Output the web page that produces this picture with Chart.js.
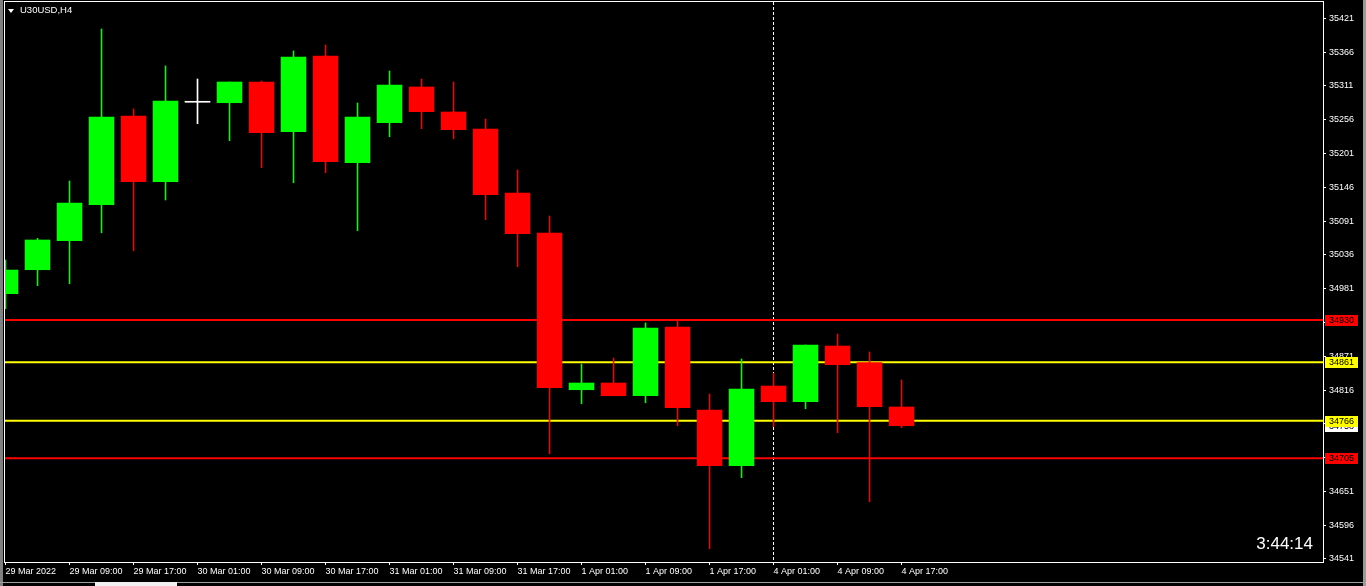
<!DOCTYPE html>
<html><head><meta charset="utf-8">
<script src="https://cdn.jsdelivr.net/npm/chart.js@4"></script>
<style>
html,body{margin:0;padding:0;background:#000;overflow:hidden;}
#wrap{position:relative;width:1366px;height:586px;background:#000;}
canvas{display:block;}
#title{position:absolute;left:20px;top:5px;font-family:"Liberation Sans",Arial,sans-serif;font-size:9.5px;line-height:10px;color:#fff;white-space:nowrap;}
#tri{position:absolute;left:8px;top:9px;width:0;height:0;border-left:3.5px solid transparent;border-right:3.5px solid transparent;border-top:4px solid #fff;}
#clock{position:absolute;right:53px;top:535px;font-family:"Liberation Sans",Arial,sans-serif;font-size:17px;line-height:17px;color:#fff;white-space:nowrap;}
</style></head><body>
<div id="wrap"><canvas id="c" width="1366" height="586"></canvas>
<div id="tri"></div><div id="title">U30USD,H4</div><div id="clock">3:44:14</div></div>
<script>
// ---- data (H4 candles, 29 Mar 01:00 .. 4 Apr 17:00) ----
const opens  = [34972.8,35011.8,35059.0,35117.6,35262.0,35155.0,35284.3,35283.6,35317.3,35236.4,35359.6,35186.0,35251.1,35309.2,35268.5,35240.8,35136.7,35071.6,34816.5,34827.4,34806.7,34918.6,34783.5,34692.8,34822.5,34797.0,34887.6,34860.5,34788.4];
const highs  = [35027.6,35062.9,35156.2,35403.6,35273.4,35343.4,35322.2,35317.3,35319.0,35367.8,35377.5,35283.1,35335.2,35322.2,35317.3,35257.1,35174.1,35099.2,34858.3,34868.1,34925.1,34931.1,34809.5,34866.5,34843.2,34889.3,34907.2,34877.9,34832.3];
const lows   = [34948.3,34985.8,34989.0,35072.0,35042.7,35125.3,35249.5,35221.8,35177.8,35153.4,35169.7,35075.3,35228.3,35241.3,35225.0,35093.2,35016.7,34712.3,34793.7,34806.7,34795.3,34757.9,34557.7,34673.3,34756.3,34785.6,34746.5,34634.2,34754.7];
const closes = [35011.3,35060.2,35120.4,35260.4,35155.0,35286.4,35284.3,35317.3,35234.8,35358.0,35187.6,35260.4,35312.4,35269.0,35239.7,35133.9,35070.4,34819.8,34827.4,34806.7,34916.9,34787.2,34692.8,34817.6,34797.0,34889.3,34857.2,34788.8,34757.9];
const timeTickIdx = [0,2,4,6,8,10,12,14,16,18,20,22,24,26,28];
const timeLabels = ["29 Mar 2022","29 Mar 09:00","29 Mar 17:00","30 Mar 01:00","30 Mar 09:00","30 Mar 17:00","31 Mar 01:00","31 Mar 09:00","31 Mar 17:00","1 Apr 01:00","1 Apr 09:00","1 Apr 17:00","4 Apr 01:00","4 Apr 09:00","4 Apr 17:00"];
const priceTicks = [35421,35366,35311,35256,35201,35146,35091,35036,34981,34926,34871,34816,34761,34706,34651,34596,34541];
const levels = [34930,34861,34766,34705];
const separatorIdx = 24;

// ---- view / style ----
const levelColors = ['#ff0000','#ffff00','#ffff00','#ff0000'];
const X_MIN = -0.046875, X_MAX = X_MIN + 1319/32;
const Y_MAX = 35447.5, Y_MIN = 34536.1;
const FONT = '"Liberation Sans", Arial, sans-serif';
const UP = '#00ff00', DOWN = '#ff0000', DOJI = '#ffffff';
const candleColors = closes.map((c,i)=> c>opens[i]?UP:(c<opens[i]?DOWN:DOJI));

const datasets = [];
levels.forEach((v,k)=>{
  datasets.push({type:'line', data:[{x:X_MIN,y:v},{x:X_MAX,y:v}], borderColor:levelColors[k], borderWidth:2,
    pointRadius:0, clip:0, order:5});
});
datasets.push({type:'line', data:[{x:separatorIdx,y:Y_MAX},{x:separatorIdx,y:Y_MIN}], borderColor:'#ffffff',
  borderWidth:1, borderDash:[3,2], pointRadius:0, clip:0, order:6});
datasets.push({type:'bar', data:highs.map((h,i)=>({x:i,y:[lows[i],h]})), backgroundColor:candleColors,
  barThickness:1, grouped:false, clip:0, order:3, borderWidth:0});
datasets.push({type:'bar', data:opens.map((o,i)=>({x:i,y:[o,closes[i]]})), backgroundColor:candleColors,
  barThickness:25, minBarLength:1, grouped:false, clip:0, order:2, borderWidth:0});

const chromePlugin = {
  id:'chrome',
  beforeDraw(chart){
    const ctx=chart.ctx; ctx.save();
    ctx.fillStyle='#000'; ctx.fillRect(0,0,1366,586);
    ctx.fillStyle='#808080'; ctx.fillRect(0,0,3,586);
    ctx.fillStyle='#9a9a9a'; ctx.fillRect(1363,0,3,586);
    ctx.fillStyle='#a0a0a0'; ctx.fillRect(0,582,1366,1);
    ctx.fillStyle='#f0f0f0'; ctx.fillRect(95,582,82,4);
    ctx.restore();
  },
  afterDraw(chart){
    const ctx=chart.ctx, a=chart.chartArea, ys=chart.scales.y;
    ctx.save();
    ctx.strokeStyle='#ffffff'; ctx.lineWidth=1;
    ctx.beginPath();
    ctx.moveTo(4.5,1); ctx.lineTo(4.5,563);
    ctx.moveTo(4,1.5); ctx.lineTo(1324,1.5);
    ctx.moveTo(a.right+0.5,1); ctx.lineTo(a.right+0.5,563);
    ctx.moveTo(4,a.bottom+0.5); ctx.lineTo(1324,a.bottom+0.5);
    ctx.stroke();
    ctx.font='9px '+FONT; ctx.textBaseline='middle'; ctx.textAlign='left';
    const tag=(v,bg,txt)=>{
      const y=Math.round(ys.getPixelForValue(v));
      ctx.fillStyle=bg; ctx.fillRect(1325,y-5,33,11);
      ctx.fillStyle='#000'; ctx.fillText(txt,1329,y+0.5);
    };
    const last=closes[closes.length-1];
    tag(last,'#ffffff',String(Math.round(last)));
    levels.forEach((v,k)=>tag(v,levelColors[k],String(v)));
    ctx.restore();
  }
};

Chart.defaults.font.family = FONT;
new Chart(document.getElementById('c'), {
  data:{datasets},
  options:{
    responsive:false, animation:false, devicePixelRatio:1,
    layout:{padding:{left:4,top:2,right:0,bottom:0}},
    plugins:{legend:{display:false}, tooltip:{enabled:false}},
    scales:{
      x:{type:'linear', position:'bottom', offset:false, min:X_MIN, max:X_MAX, bounds:'data',
        afterBuildTicks:s=>{s.ticks=timeTickIdx.map(v=>({value:v}));},
        afterFit:s=>{s.height=24; s.paddingLeft=0; s.paddingRight=0;},
        ticks:{autoSkip:false, maxRotation:0, minRotation:0, align:'start', color:'#ffffff', padding:1,
          font:{size:9, family:FONT}, callback:v=>timeLabels[timeTickIdx.indexOf(v)]},
        grid:{offset:false, drawOnChartArea:false, drawTicks:true, tickLength:3, color:'#ffffff'},
        border:{display:false}},
      y:{type:'linear', position:'right', min:Y_MIN, max:Y_MAX, bounds:'data',
        afterBuildTicks:s=>{s.ticks=priceTicks.map(v=>({value:v}));},
        afterFit:s=>{s.width=43; s.paddingTop=0; s.paddingBottom=0;},
        ticks:{autoSkip:false, color:'#ffffff', padding:3, font:{size:9, family:FONT}, callback:v=>String(v)},
        grid:{drawOnChartArea:false, drawTicks:true, tickLength:3, color:'#ffffff'},
        border:{display:false}}
    }
  },
  plugins:[chromePlugin]
});
</script>
</body></html>
